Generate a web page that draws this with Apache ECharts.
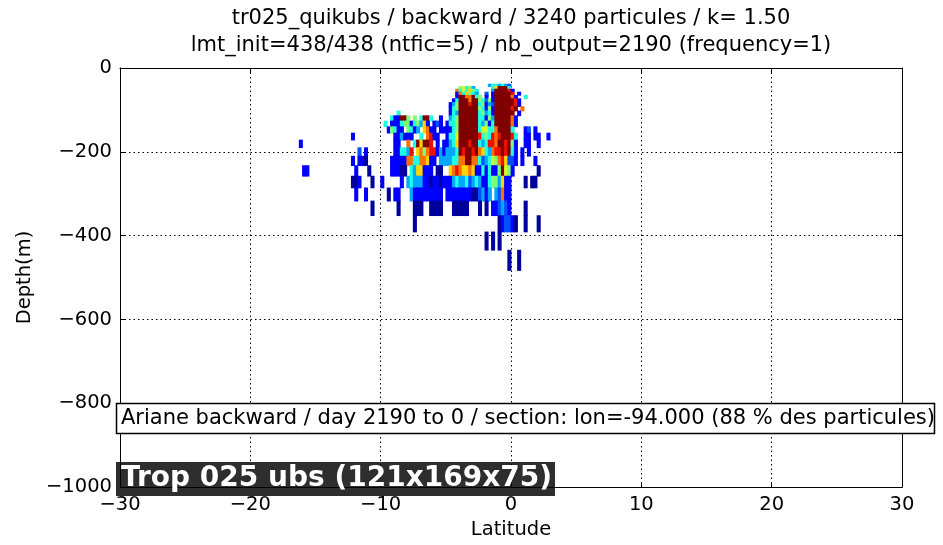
<!DOCTYPE html>
<html>
<head>
<meta charset="utf-8">
<title>tr025_quikubs section</title>
<script src="https://cdn.jsdelivr.net/npm/echarts@6/dist/echarts.min.js"></script>
<style>
  html, body { margin: 0; padding: 0; background: #fff; }
  #main { width: 943px; height: 545px; }
</style>
</head>
<body>
<div id="main"></div>
<script type="text/javascript">

// grid of the section: 0.25 deg columns starting at latStart, model levels (m) as row edges
var latStart = -16.5;
var cellWidth = 0.25;
var depthEdges = [38.5, 44.2, 50.5, 57.5, 65.1, 73.3, 82.3, 92.0, 102.5, 114.0, 126.5, 140.2,
                  155.3, 171.9, 190.2, 210.5, 233.0, 258.1, 286.1, 317.4, 352.3, 391.2, 434.7, 483.1];

// one string per level, one char per column ('.' = no particle, 1..b = density class)
// segments (spaces ignored): lat -16.5..-12.75 | -12.5..-9.25 | -9..-5.25 | -5..-0.25 | 0..3
var gridRows = [
  '................ .............. ................ .............4554543 .............',
  '................ .............. ................ ....67564.....58bbb5 .............',
  '................ .............. ................ ...9575865....4bbbba 2............',
  '................ .............. ................ ...2958654..3.2bbbbb a.2..........',
  '................ .............. ................ ...2bb99b56.2.2bbbbb 92..5........',
  '................ .............. ................ ..25bbb9bb65362bbbbb ba2..........',
  '................ .............. ................ .246bbbabb56243bbbbb ba2..........',
  '................ .............. ................ .256bbbbbb65262bbbbb ab.9.........',
  '................ .............. .5.............. .254bbbbbb56452bbbbb b.2..........',
  '................ .............5 22bb6.6.5bb5..2. .456bbbbbb55264bbbbb 92...........',
  '................ ...........5.2 22566256482.232. 2556bbbbbb54625bbbbb 92...........',
  '................ ............26 522.6524.8922.22 2256bbbbbb577559bbbb 5...23.2.....',
  '................ .2............ 224222..5.9a22.. 2557bbbbbba565a9abbb a5..22.22..2.',
  '.2.............. .............. 22..9.5b8bba.2.2 2458bbbabb545aa9bbab 62..22..2....',
  '................ ...3.2........ 22554a.8969aa242 4445babbab98549aabab 52.2.2.......',
  '................ .2.221.......2 2222995599822.44 445599bb995345769a83 32.2...2.....',
  '..22............ ..2...1......2 2211.5488222.11. .89a9889822525226b76 2.......1....',
  '................ .112...1..2... ..2.454442212212 22454453454225664822 ....1.11.....',
  '................ ..2..2......1. 22...4222222222. 22222222113424.43922 .............',
  '................ .......1...... .1....111..1111. ..11111...1.1.223432 ....1........',
  '................ .............. ......1......... ................1233 21..1...1....',
  '................ .............. ................ ............1.1.1... .............',
  '................ .............. ................ ...................1 ..1..........'
];

var levelColors = ['#00009c', '#0000ff', '#0050ff', '#00a8ff', '#20ffe0', '#7dff7a',
                   '#d2ff25', '#ffd200', '#ff7000', '#ee1000', '#800000'];

var titleLines = [
  'tr025_quikubs / backward / 3240 particules / k= 1.50',
  'lmt_init=438/438 (ntfic=5) / nb_output=2190 (frequency=1)'
];
var sectionText = 'Ariane backward / day 2190 to 0 / section: lon=-94.000 (88 % des particules)';
var configText = 'Trop 025 ubs (121x169x75)';

var cells = [];
gridRows.forEach(function (row, r) {
  var chars = row.replace(/ /g, '');
  for (var i = 0; i < chars.length; i++) {
    if (chars[i] === '.') continue;
    cells.push([latStart + i * cellWidth, -depthEdges[r], -depthEdges[r + 1], parseInt(chars[i], 16)]);
  }
});

function minusLabel(v) {
  return v < 0 ? '\u2212' + Math.abs(v) : String(v);
}

var font = 'DejaVu Sans';
var axisCommon = {
  type: 'value',
  axisLine: { show: true, onZero: false, lineStyle: { color: '#000', width: 1 } },
  axisTick: { show: true, inside: true, length: 5, lineStyle: { color: '#000' } }
};

var chart = echarts.init(document.getElementById('main'));

chart.setOption({
  animation: false,
  backgroundColor: '#fff',
  grid: { left: 120, right: 41, top: 68, bottom: 53 },
  xAxis: [
    Object.assign({}, axisCommon, {
      position: 'bottom', min: -30, max: 30, interval: 10,
      name: 'Latitude', nameLocation: 'middle', nameGap: 31,
      nameTextStyle: { fontFamily: font, fontSize: 19.5, color: '#000' },
      axisLabel: { margin: 8, fontFamily: font, fontSize: 19.5, color: '#000', formatter: minusLabel },
      splitLine: { show: true, lineStyle: { color: '#000', type: [1.5, 3], width: 1 } }
    }),
    Object.assign({}, axisCommon, {
      position: 'top', min: -30, max: 30, interval: 10,
      axisLabel: { show: false }, splitLine: { show: false }
    })
  ],
  yAxis: [
    Object.assign({}, axisCommon, {
      position: 'left', min: -1000, max: 0, interval: 200,
      name: 'Depth(m)', nameLocation: 'middle', nameGap: 84,
      nameTextStyle: { fontFamily: font, fontSize: 19.5, color: '#000' },
      axisLabel: { margin: 8, fontFamily: font, fontSize: 19.5, color: '#000', formatter: minusLabel },
      splitLine: { show: true, lineStyle: { color: '#000', type: [1.5, 3], width: 1 } }
    }),
    Object.assign({}, axisCommon, {
      position: 'right', min: -1000, max: 0, interval: 200,
      axisLabel: { show: false }, splitLine: { show: false }
    })
  ],
  visualMap: {
    type: 'piecewise',
    show: false,
    dimension: 3,
    seriesIndex: 0,
    pieces: levelColors.map(function (c, i) { return { value: i + 1, color: c }; })
  },
  series: [{
    type: 'custom',
    coordinateSystem: 'cartesian2d',
    encode: { x: 0, y: [1, 2] },
    data: cells,
    renderItem: function (params, api) {
      var p0 = api.coord([api.value(0), api.value(1)]);
      var p1 = api.coord([api.value(0) + cellWidth, api.value(2)]);
      // small overlap so neighbouring cells do not leave hairline gaps
      return {
        type: 'rect',
        shape: { x: p0[0] - 0.4, y: p0[1] - 0.4, width: p1[0] - p0[0] + 0.8, height: p1[1] - p0[1] + 0.8 },
        style: { fill: api.visual('color') }
      };
    }
  }],
  graphic: [
    { type: 'text', z: 100, x: 511, y: 19,
      style: { text: titleLines[0], font: '21px ' + font, fill: '#000', align: 'center', verticalAlign: 'middle' } },
    { type: 'text', z: 100, x: 511, y: 46,
      style: { text: titleLines[1], font: '21px ' + font, fill: '#000', align: 'center', verticalAlign: 'middle' } },
    { type: 'rect', z: 100, shape: { x: 116.5, y: 403.5, width: 818, height: 30 },
      style: { fill: '#fff', stroke: '#000', lineWidth: 1.5 } },
    { type: 'text', z: 101, x: 121, y: 419,
      style: { text: sectionText, font: '21px ' + font, fill: '#000', align: 'left', verticalAlign: 'middle' } },
    { type: 'rect', z: 100, shape: { x: 116, y: 462, width: 439, height: 34 },
      style: { fill: 'rgba(0,0,0,0.82)' } },
    { type: 'text', z: 101, x: 121, y: 479,
      style: { text: configText, font: 'bold 28px ' + font, fill: '#fff', align: 'left', verticalAlign: 'middle' } }
  ]
});
</script>
</body>
</html>
